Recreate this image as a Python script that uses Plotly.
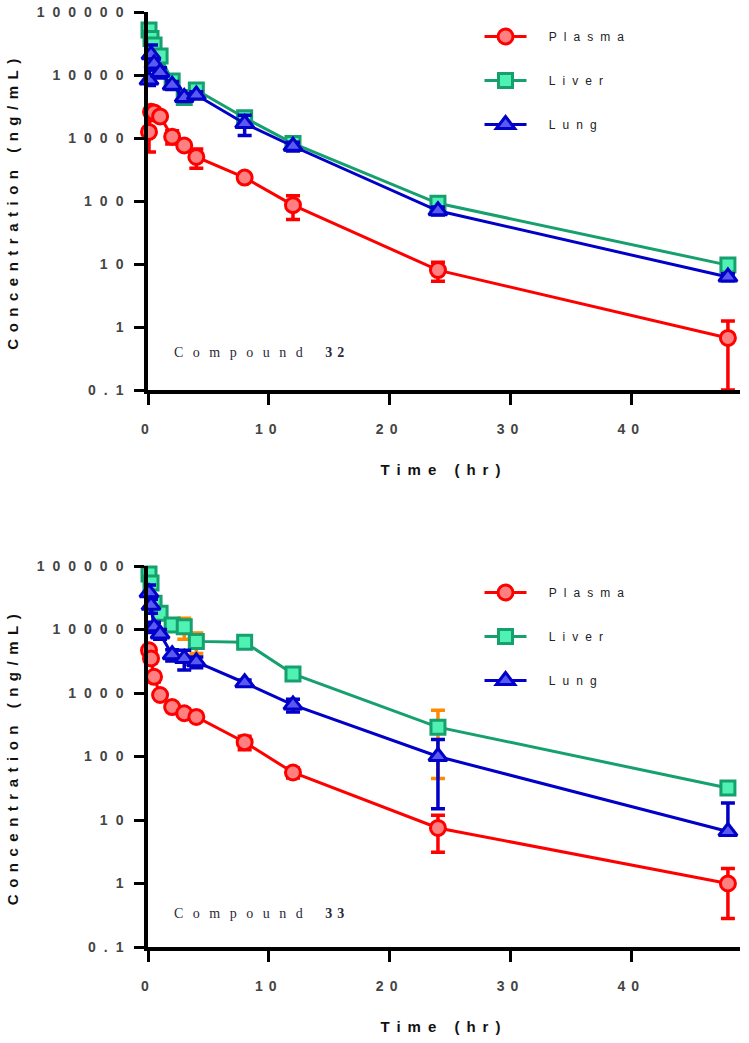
import plotly.graph_objects as go

# ---------------- data ----------------
times = [0.083, 0.25, 0.5, 1, 2, 3, 4, 8, 12, 24, 48]

# Compound 32
plasma32 = [1250, 2600, 2550, 2200, 1050, 760, 500, 235, 86, 8.0, 0.67]
plasma32_sd = [650, 400, 350, 300, 250, 80, 170, 30, 35, 2.7, 0.57]
liver32 = [52000, 38000, 30000, 20000, 8000, 4400, 5800, 2100, 820, 92, 9.6]
liver32_sd = [8000, 6000, 5000, 3000, 1500, 800, 1000, 300, 100, 12, 1.2]
lung32 = [8300, 21000, 15000, 11000, 6900, 4400, 4800, 1700, 740, 70, 6.2]
lung32_sd = [1500, 9000, 3000, 2000, 1000, 600, 600, 600, 120, 10, 0.8]

# Compound 33
plasma33 = [4700, 3500, 1800, 930, 600, 480, 420, 168, 56, 7.5, 1.0]
plasma33_sd = [600, 500, 300, 100, 60, 50, 40, 40, 10, 4.4, 0.72]
liver33 = [75000, 54000, 26000, 18000, 11800, 11000, 6500, 6300, 2000, 290, 32]
liver33_sd = [22000, 10000, 5000, 3000, 2000, 4000, 2300, 600, 300, 245, 4]
lung33 = [38000, 24000, 11000, 8500, 4000, 3500, 3100, 1450, 650, 100, 6.6]
lung33_sd = [12000, 6000, 2000, 1500, 800, 1200, 600, 150, 150, 85, 12]
lung33_sd_minus = [12000, 6000, 2000, 1500, 800, 1200, 600, 150, 150, 85, 0]

series_names = ["Plasma", "Liver", "Lung"]
ytick_vals = [0.1, 1, 10, 100, 1000, 10000, 100000]
ytick_text = ["0.1", "1", "10", "100", "1000", "10000", "100000"]
xtick_vals = [0, 10, 20, 30, 40]
xtick_text = ["0", "10", "20", "30", "40"]
compound_labels = ["32", "33"]

# ---------------- styles ----------------
RED, RED_F = "#FF0000", "#FF8080"
GRN, GRN_F = "#16A06E", "#4FF2B2"
BLU, BLU_F = "#0000C8", "#5A5AF2"
ORANGE = "#FF8C00"


def sp(text, ls):
    return f"<span style='letter-spacing:{ls}px'>{text}</span>"


fig = go.Figure()

styles = [
    dict(color=RED, fill=RED_F, symbol="circle", ecol=RED, size=15),
    dict(color=GRN, fill=GRN_F, symbol="square", ecol=ORANGE, size=14),
    dict(color=BLU, fill=BLU_F, symbol="triangle-up", ecol=BLU, size=16),
]

panels = [
    dict(xa="x", ya="y", legend="legend",
         data=[(plasma32, plasma32_sd, plasma32_sd),
               (liver32, liver32_sd, liver32_sd),
               (lung32, lung32_sd, lung32_sd)]),
    dict(xa="x2", ya="y2", legend="legend2",
         data=[(plasma33, plasma33_sd, plasma33_sd),
               (liver33, liver33_sd, liver33_sd),
               (lung33, lung33_sd, lung33_sd_minus)]),
]

for pi, p in enumerate(panels):
    for si, (vals, sdp, sdm) in enumerate(p["data"]):
        st = styles[si]
        fig.add_trace(go.Scatter(
            x=times, y=vals, xaxis=p["xa"], yaxis=p["ya"],
            mode="lines+markers",
            name=sp(" ", 14) + sp(series_names[si], 7),
            legend=p["legend"], legendgroup=f"{pi}-{si}",
            line=dict(color=st["color"], width=3),
            marker=dict(symbol=st["symbol"], size=st["size"],
                        color=st["fill"], line=dict(color=st["color"], width=3)),
            error_y=dict(type="data", array=sdp, arrayminus=sdm, symmetric=False,
                         color=st["ecol"], thickness=3.5, width=7),
            cliponaxis=False,
        ))

tickfont = dict(family="Liberation Sans, Arial", size=14, color="#444444", weight="bold")
titlefont = dict(family="Liberation Sans, Arial", size=15, color="#111", weight="bold")

ax_common_x = dict(
    range=[0, 49], showline=True, linecolor="black", linewidth=3.5,
    ticks="outside", ticklen=11, tickwidth=3, tickcolor="black",
    tickvals=xtick_vals, ticktext=[sp(t, 6) for t in xtick_text],
    tickfont=tickfont, ticklabelstandoff=12, automargin=False,
    ticklabeloverflow="allow",
    showgrid=False, zeroline=False,
    title=dict(text=sp("Time (hr)", 7), font=titlefont, standoff=30),
)
ax_common_y = dict(
    type="log", range=[-1, 5], showline=True, linecolor="black", linewidth=3.5,
    ticks="outside", ticklen=10, tickwidth=3, tickcolor="black",
    tickvals=ytick_vals, ticktext=[sp(t, 8) for t in ytick_text],
    tickfont=tickfont, ticklabelstandoff=0, automargin=False,
    ticklabeloverflow="allow",
    showgrid=False, zeroline=False,
    title=dict(text=sp("Concentration (ng/mL)", 6.5), font=titlefont, standoff=15),
)

# page body margin is removed (post_script), so figure pixels == page pixels
W, H = 749, 1043
L, R, T, B = 148, 9, 12, 96
plot_h = H - T - B


def py(page_y):
    """page pixel y -> paper fraction"""
    return (H - B - page_y) / plot_h


fig.update_layout(
    width=W, height=H,
    margin=dict(l=L, r=R, t=T, b=B, autoexpand=False),
    plot_bgcolor="white", paper_bgcolor="white",
    xaxis=dict(ax_common_x, domain=[0, 1], anchor="y"),
    yaxis=dict(ax_common_y, domain=[py(390), py(12)], anchor="x"),
    xaxis2=dict(ax_common_x, domain=[0, 1], anchor="y2"),
    yaxis2=dict(ax_common_y, domain=[py(947), py(566)], anchor="x2"),
    legend=dict(x=0.56, xanchor="left", y=py(22), yanchor="top",
                tracegroupgap=25, bgcolor="rgba(0,0,0,0)",
                font=dict(family="Liberation Sans, Arial", size=12, color="#222"),
                itemwidth=42),
    legend2=dict(x=0.56, xanchor="left", y=py(578), yanchor="top",
                 tracegroupgap=25, bgcolor="rgba(0,0,0,0)",
                 font=dict(family="Liberation Sans, Arial", size=12, color="#222"),
                 itemwidth=42),
    showlegend=True,
)

ann_font = dict(family="Liberation Serif, Times New Roman", size=14, color="#2a2a3a")
fig.add_annotation(x=2.0, y=-0.41, xref="x", yref="y", xanchor="left", showarrow=False,
                   text=sp("Compound ", 9.5) + "<b>" + sp(compound_labels[0], 5) + "</b>",
                   font=ann_font)
fig.add_annotation(x=2.0, y=-0.465, xref="x2", yref="y2", xanchor="left", showarrow=False,
                   text=sp("Compound ", 9.5) + "<b>" + sp(compound_labels[1], 5) + "</b>",
                   font=ann_font)

fig.write_html("out.html", config={"displayModeBar": False},
               post_script="document.body.style.margin='0px';")
